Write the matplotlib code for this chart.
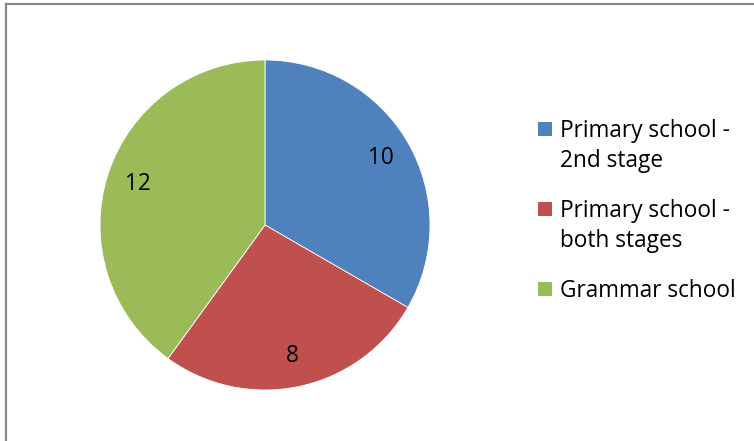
import matplotlib
matplotlib.use('Agg')
import matplotlib.pyplot as plt
from matplotlib.patches import Rectangle
from matplotlib.lines import Line2D

categories = ['Primary school -\n2nd stage', 'Primary school -\nboth stages', 'Grammar school']
values = [10, 8, 12]
colors = ['#4F81BD', '#C0504D', '#9BBB59']

plt.rcParams['font.family'] = ['Open Sans', 'DejaVu Sans']

W, H = 754, 441
fs = 16.3
fig = plt.figure(figsize=(W / 100, H / 100), dpi=100)

# pie: centre (265,225), radius 165 px
ax = fig.add_axes([100 / W, (H - 390) / H, 330 / W, 330 / H])
wedges, texts = ax.pie(values, colors=colors, startangle=90, counterclock=False,
                       labels=[str(v) for v in values], labeldistance=0.81,
                       wedgeprops=dict(edgecolor='white', linewidth=0.6),
                       textprops=dict(fontsize=fs, color='black', ha='center', va='center'))
ax.set_xlim(-1, 1)
ax.set_ylim(-1, 1)
ax.set_aspect('auto')

# chart border (only left and top visible)
fig.add_artist(Line2D([5.5 / W, 5.5 / W], [0, 1 - 3.5 / H], color='#888888', lw=1.6, transform=fig.transFigure))
fig.add_artist(Line2D([5.5 / W, 1], [1 - 3.5 / H, 1 - 3.5 / H], color='#888888', lw=1.6, transform=fig.transFigure))

# legend, drawn by hand: square + one text per line
y = 122  # top of first square, px from top
for name, c in zip(categories, colors):
    fig.add_artist(Rectangle((538 / W, 1 - (y + 14) / H), 14 / W, 14 / H,
                             facecolor=c, edgecolor='none', transform=fig.transFigure))
    base = y + 15
    for line in name.split('\n'):
        fig.text(560 / W, 1 - base / H, line, fontsize=fs, va='baseline', ha='left', color='black')
        base += 30
    y += 80 if '\n' in name else 30

fig.savefig('out.png', dpi=100)
